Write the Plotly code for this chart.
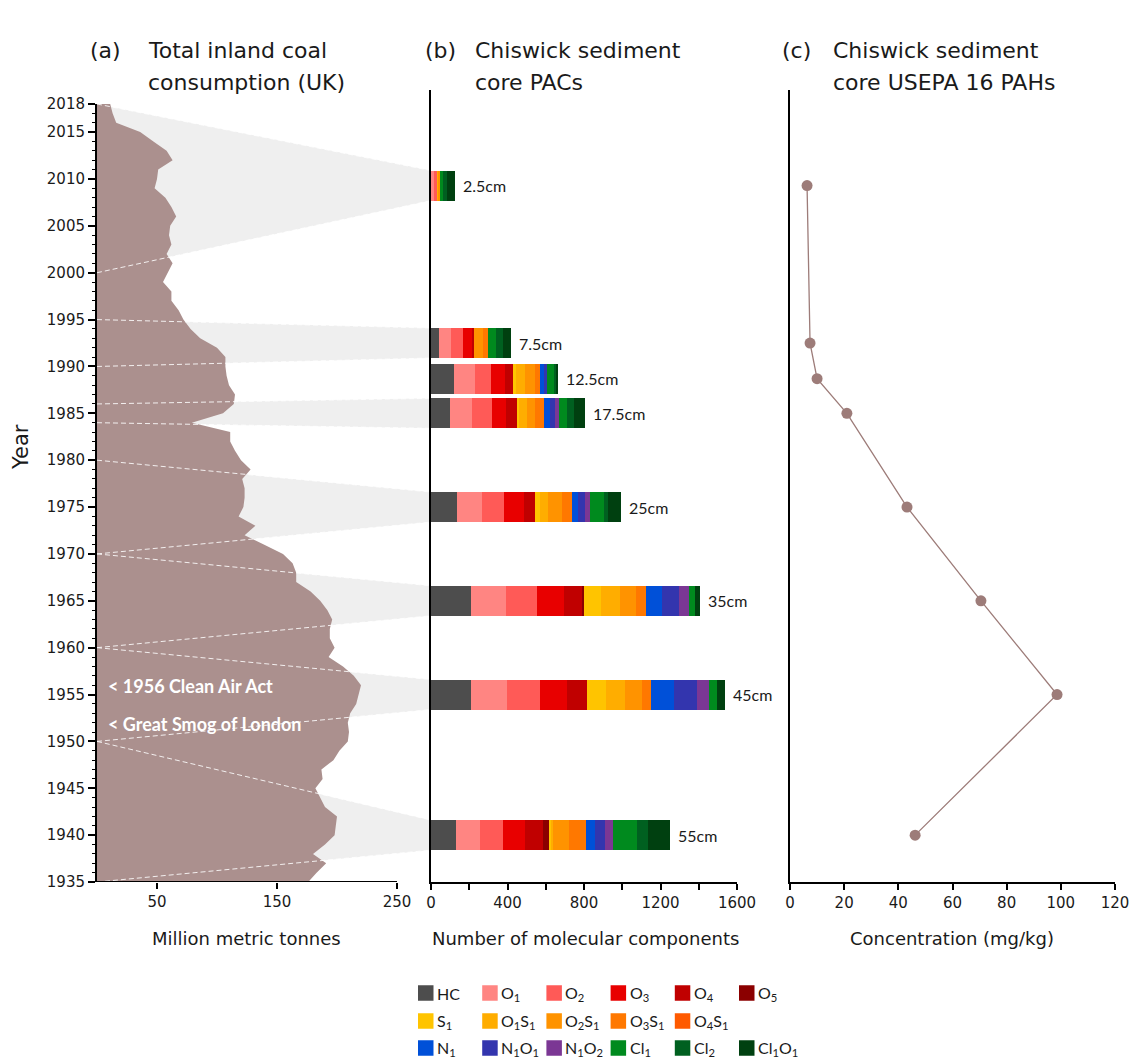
import plotly.graph_objects as go

W, H = 1131, 1063


def px(x):
    return x / W


def py(y):
    return 1 - y / H


# ---------------- data ----------------
coal_years = list(range(1935, 2019))
coal_mt = [
    176, 183, 191, 180, 190, 198, 199, 200, 190, 186,   # 1935-1944
    182, 188, 187, 197, 202, 209, 210, 209, 211, 216,   # 1945-1954
    218, 220, 214, 205, 193, 198, 194, 194, 196, 192,   # 1955-1964
    186, 178, 166, 166, 163, 155, 139, 123, 132, 118,   # 1965-1974
    122, 123, 123, 121, 128, 120, 115, 111, 111, 79,    # 1975-1984
    105, 114, 115, 110, 108, 107, 107, 100, 86, 78,     # 1985-1994
    72, 68, 62, 62, 55, 59, 63, 58, 62, 60,             # 1995-2004
    61, 66, 62, 57, 48, 50, 51, 63, 58, 47,             # 2005-2014
    36, 16, 13, 11,                                     # 2015-2018
]

core_depths = ['2.5cm', '7.5cm', '12.5cm', '17.5cm', '25cm', '35cm', '45cm', '55cm']
core_years = [2009.3, 1992.5, 1988.7, 1985.0, 1975.0, 1965.0, 1955.0, 1940.0]
band_from = [2000, 1990, None, 1984, 1970, 1960, 1950, 1935]
band_to = [2018, 1995, None, 1986, 1980, 1970, 1960, 1950]

components = ['HC', 'O1', 'O2', 'O3', 'O4', 'O5',
              'S1', 'O1S1', 'O2S1', 'O3S1', 'O4S1',
              'N1', 'N1O1', 'N1O2', 'Cl1', 'Cl2', 'Cl1O1']
component_labels = ['HC', 'O<sub>1</sub>', 'O<sub>2</sub>', 'O<sub>3</sub>', 'O<sub>4</sub>', 'O<sub>5</sub>',
                    'S<sub>1</sub>', 'O<sub>1</sub>S<sub>1</sub>', 'O<sub>2</sub>S<sub>1</sub>',
                    'O<sub>3</sub>S<sub>1</sub>', 'O<sub>4</sub>S<sub>1</sub>',
                    'N<sub>1</sub>', 'N<sub>1</sub>O<sub>1</sub>', 'N<sub>1</sub>O<sub>2</sub>',
                    'Cl<sub>1</sub>', 'Cl<sub>2</sub>', 'Cl<sub>1</sub>O<sub>1</sub>']
component_colors = ['#4D4D4D', '#FF8582', '#FF5A57', '#E80000', '#C00000', '#8B0000',
                    '#FFC400', '#FFAD00', '#FF9300', '#FF7800', '#FF5A00',
                    '#0050D8', '#3335AE', '#7B3794', '#008A1E', '#006020', '#004010']

# number of molecular components per core depth (2.5 ... 55 cm)
HC = [0, 42, 120, 99, 134, 207, 207, 129]
O1 = [18, 62, 108, 113, 131, 185, 188, 127]
O2 = [15, 61, 87, 105, 119, 164, 174, 119]
O3 = [0, 52, 72, 75, 101, 141, 143, 117]
O4 = [0, 10, 40, 56, 61, 94, 105, 91]
O5 = [0, 0, 0, 0, 0, 10, 0, 35]
S1 = [0, 0, 17, 14, 24, 87, 98, 10]
O1S1 = [5, 0, 46, 38, 44, 99, 99, 12]
O2S1 = [9, 44, 54, 44, 70, 84, 91, 82]
O3S1 = [0, 25, 25, 49, 51, 51, 44, 89]
O4S1 = [0, 0, 0, 0, 0, 0, 0, 0]
N1 = [0, 0, 21, 30, 33, 87, 119, 47]
N1O1 = [0, 0, 14, 23, 38, 89, 125, 52]
N1O2 = [0, 0, 0, 21, 23, 51, 61, 40]
Cl1 = [15, 42, 40, 44, 73, 31, 44, 125]
Cl2 = [22, 40, 8, 38, 23, 0, 0, 58]
Cl1O1 = [43, 42, 12, 54, 70, 28, 40, 117]
pac_values = [HC, O1, O2, O3, O4, O5, S1, O1S1, O2S1, O3S1, O4S1,
              N1, N1O1, N1O2, Cl1, Cl2, Cl1O1]

usepa16_conc = [6.3, 7.4, 10.0, 21.0, 43.2, 70.5, 98.6, 46.2]

year_ticks = [1935, 1940, 1945, 1950, 1955, 1960, 1965, 1970, 1975, 1980,
              1985, 1990, 1995, 2000, 2005, 2010, 2015, 2018]
coal_ticks = [50, 150, 250]
pac_ticks = [0, 400, 800, 1200, 1600]
conc_ticks = [0, 20, 40, 60, 80, 100, 120]

# ---------------- layout constants ----------------
A_X0, A_X250, B_X0, B_X1600 = 97, 397, 431, 737
C_X0, C_X120 = 790, 1115
Y_TOP_B, Y_TOP_A, Y_BOT = 90, 104, 882
XE = 250 * (B_X0 - A_X0) / (A_X250 - A_X0)   # bar-axis position in panel (a) units
BAR_W = 3.2
BAND = '#EFEFEF'
BROWN = '#AB908E'
DOT = '#9D7C79'
MAIN_FONT = 'DejaVu Sans, sans-serif'
LABEL_FONT = 'Lato, sans-serif'
TICKFONT = dict(family=MAIN_FONT, size=15, color='#1a1a1a')

fig = go.Figure()

# grey wedges linking coal record to core slices
for yr, f, t in zip(core_years, band_from, band_to):
    if f is None:
        continue
    fig.add_trace(go.Scatter(
        x=[0, XE, XE, 0, 0], y=[t, yr + BAR_W / 2, yr - BAR_W / 2, f, t],
        fill='toself', fillcolor=BAND, mode='lines', line=dict(width=0),
        hoverinfo='skip', showlegend=False, xaxis='x', yaxis='y'))

# coal consumption area
fig.add_trace(go.Scatter(
    x=coal_mt, y=coal_years, fill='tozerox', fillcolor=BROWN, mode='lines',
    line=dict(width=0, color=BROWN), showlegend=False, xaxis='x', yaxis='y'))

# dashed guide lines
for yr, f, t in zip(core_years, band_from, band_to):
    if f is None:
        continue
    for y0, y1 in ((t, yr + BAR_W / 2), (f, yr - BAR_W / 2)):
        fig.add_trace(go.Scatter(
            x=[0, XE], y=[y0, y1], mode='lines',
            line=dict(color='rgba(255,255,255,0.85)', width=1, dash='5px,3px'),
            hoverinfo='skip', showlegend=False, xaxis='x', yaxis='y'))

# stacked bars
for name, vals, col in zip(components, pac_values, component_colors):
    fig.add_trace(go.Bar(
        x=vals, y=core_years, orientation='h', width=BAR_W, name=name,
        marker=dict(color=col, line=dict(width=0)), showlegend=False,
        xaxis='x2', yaxis='y2'))

totals = [sum(v[i] for v in pac_values) for i in range(len(core_years))]

# USEPA 16 PAHs
fig.add_trace(go.Scatter(
    x=usepa16_conc, y=core_years, mode='lines+markers',
    line=dict(color=DOT, width=1.3), marker=dict(color=DOT, size=11),
    showlegend=False, xaxis='x3', yaxis='y3'))

annotations = []
for lab, yr, tot in zip(core_depths, core_years, totals):
    annotations.append(dict(x=tot, y=yr, xref='x2', yref='y2', text=lab, showarrow=False,
                            xanchor='left', yanchor='middle', xshift=6,
                            font=dict(family=LABEL_FONT, size=16, color='#1a1a1a')))


def txt(x, y, s, size=22, anchor='left', family=MAIN_FONT, color='#1a1a1a', angle=0):
    annotations.append(dict(x=px(x), y=py(y), xref='paper', yref='paper', text=s,
                            showarrow=False, xanchor=anchor, yanchor='middle',
                            textangle=angle, font=dict(family=family, size=size, color=color)))


txt(88, 50, '(a)')
txt(146, 50, 'Total inland coal')
txt(146, 83, 'consumption (UK)')
txt(423, 50, '(b)')
txt(473, 50, 'Chiswick sediment')
txt(473, 83, 'core PACs')
txt(780, 50, '(c)')
txt(831, 50, 'Chiswick sediment')
txt(831, 83, 'core USEPA 16 PAHs')
txt(21, 447, 'Year', size=21, anchor='center', angle=-90)
txt(246, 938, 'Million metric tonnes', size=18, anchor='center')
txt(585, 938, 'Number of molecular components', size=18, anchor='center')
txt(952, 938, 'Concentration (mg/kg)', size=18, anchor='center')
txt(106, 686, '<b>&lt; 1956 Clean Air Act</b>', size=18, family=LABEL_FONT, color='white')
txt(106, 724, '<b>&lt; Great Smog of London</b>', size=18, family=LABEL_FONT, color='white')

# manual legend
shapes = []
rows = [components[0:6], components[6:11], components[11:17]]
row_y = [993, 1021, 1048]
idx = 0
for r, row in enumerate(rows):
    for c, _ in enumerate(row):
        x0 = 418 + 64.2 * c
        yc = row_y[r]
        shapes.append(dict(type='rect', xref='paper', yref='paper',
                           x0=px(x0), x1=px(x0 + 15.5), y0=py(yc + 7.75), y1=py(yc - 7.75),
                           fillcolor=component_colors[idx], line=dict(width=0)))
        txt(x0 + 17, yc, component_labels[idx], size=16, family=LABEL_FONT)
        idx += 1

# panel (a) bottom axis line only spans 0-250
shapes.append(dict(type='line', xref='x', yref='y', x0=0, x1=250, y0=1935, y1=1935,
                   line=dict(color='black', width=2)))

common = dict(automargin=False, showgrid=False, zeroline=False)
fig.update_layout(
    template='none',
    font=dict(family=MAIN_FONT, size=15, color='#1a1a1a'),
    width=W, height=H, margin=dict(l=0, r=0, t=0, b=0, pad=0), autosize=False,
    paper_bgcolor='white', plot_bgcolor='white', barmode='stack', bargap=0,
    annotations=annotations, shapes=shapes,
    xaxis=dict(domain=[px(A_X0), px(B_X0)], range=[0, XE], anchor='y',
               tickmode='array', tickvals=coal_ticks,
               ticks='outside', ticklen=6, tickwidth=1.5, tickcolor='black',
               showline=False, tickfont=TICKFONT, **common),
    yaxis=dict(domain=[py(Y_BOT), py(Y_TOP_A)], range=[1935, 2018], anchor='x',
               tickmode='array', tickvals=year_ticks, ticks='outside', ticklen=7,
               tickwidth=1.5, tickcolor='black',
               minor=dict(ticks='outside', ticklen=3.5, tickwidth=1, tickcolor='black',
                          tickmode='linear', tick0=1935, dtick=1, showgrid=False),
               showline=True, linewidth=2, linecolor='black',
               tickfont=TICKFONT, **common),
    xaxis2=dict(domain=[px(B_X0), px(B_X1600)], range=[0, 1600], anchor='y2',
                tickmode='array', tickvals=pac_ticks,
                ticks='outside', ticklen=6, tickwidth=1.5, tickcolor='black',
                minor=dict(ticks='outside', ticklen=6, tickwidth=1.5, tickcolor='black',
                           tickmode='linear', tick0=0, dtick=200, showgrid=False),
                showline=True, linewidth=2, linecolor='black',
                tickfont=TICKFONT, **common),
    yaxis2=dict(domain=[py(Y_BOT), py(Y_TOP_B)], range=[1935, 2019.5], anchor='x2',
                showticklabels=False, ticks='', showline=True, linewidth=2,
                linecolor='black', **common),
    xaxis3=dict(domain=[px(C_X0), px(C_X120)], range=[0, 120], anchor='y3',
                tickmode='array', tickvals=conc_ticks,
                ticks='outside', ticklen=6, tickwidth=1.5, tickcolor='black',
                showline=True, linewidth=2, linecolor='black',
                tickfont=TICKFONT, **common),
    yaxis3=dict(domain=[py(Y_BOT), py(Y_TOP_B)], range=[1935, 2019.5], anchor='x3',
                showticklabels=False, ticks='', showline=True, linewidth=2,
                linecolor='black', **common),
)

fig.write_html('out.html')
